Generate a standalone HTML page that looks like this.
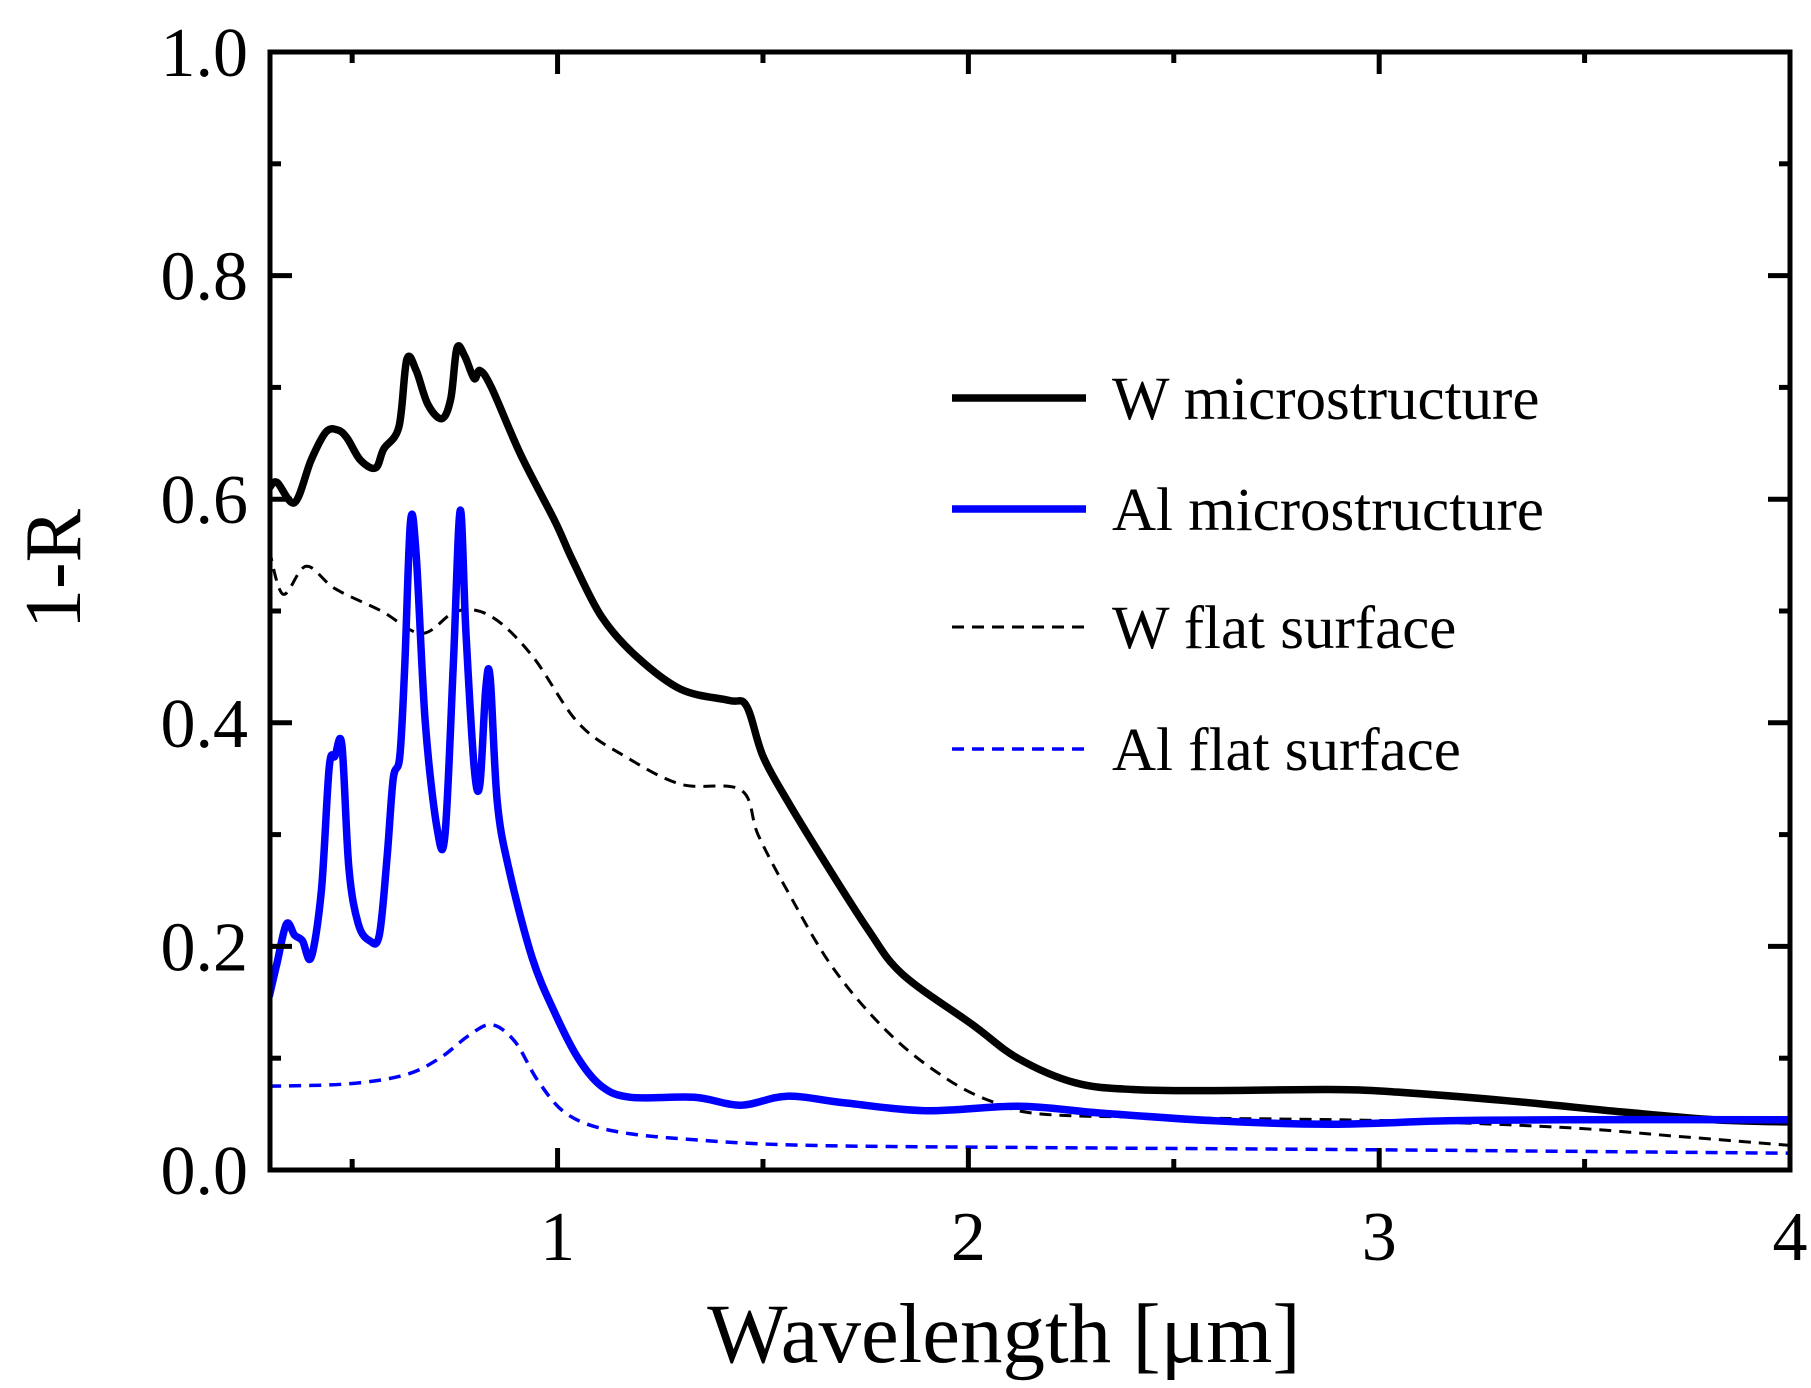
<!DOCTYPE html>
<html><head><meta charset="utf-8"><style>
html,body{margin:0;padding:0;background:#fff}
svg{display:block}
text{font-family:"Liberation Serif",serif;fill:#000}
</style></head><body>
<svg id="chart" width="1811" height="1388" viewBox="0 0 1811 1388" xmlns="http://www.w3.org/2000/svg">
<g id="plot"></g>
</svg>
<script>
const xTicks=[1,2,3,4];
const xMinor=[0.5,1.5,2.5,3.5];
const yTicks=[0,0.2,0.4,0.6,0.8,1.0];
const yTickLabels=["0.0","0.2","0.4","0.6","0.8","1.0"];
const yMinor=[0.1,0.3,0.5,0.7,0.9];
const wMicroX=[0.298,0.317,0.36,0.40,0.436,0.464,0.487,0.52,0.557,0.577,0.614,0.633,0.656,0.684,0.718,0.74,0.755,0.774,0.797,0.811,0.839,0.91,0.994,1.037,1.107,1.19,1.30,1.417,1.46,1.50,1.56,1.643,1.756,1.84,2.01,2.12,2.26,2.40,2.60,2.88,3.03,3.31,3.59,3.815,4.0];
const wMicroY=[0.61,0.615,0.597,0.635,0.66,0.662,0.655,0.635,0.628,0.645,0.665,0.725,0.715,0.685,0.672,0.69,0.735,0.728,0.708,0.715,0.7,0.64,0.58,0.545,0.495,0.46,0.43,0.42,0.415,0.37,0.33,0.28,0.215,0.175,0.13,0.1,0.078,0.072,0.071,0.072,0.07,0.062,0.052,0.045,0.043];
const alMicroX=[0.298,0.317,0.34,0.36,0.379,0.40,0.425,0.444,0.458,0.475,0.492,0.515,0.543,0.566,0.585,0.6,0.616,0.628,0.642,0.656,0.678,0.707,0.726,0.746,0.763,0.777,0.797,0.811,0.825,0.836,0.853,0.881,0.938,0.994,1.05,1.107,1.178,1.333,1.446,1.559,1.70,1.897,2.123,2.32,2.60,2.884,3.166,3.45,4.0];
const alMicroY=[0.155,0.185,0.22,0.21,0.205,0.19,0.25,0.36,0.37,0.38,0.27,0.22,0.205,0.21,0.28,0.35,0.37,0.45,0.58,0.55,0.40,0.305,0.3,0.45,0.59,0.48,0.36,0.345,0.43,0.44,0.33,0.27,0.19,0.14,0.1,0.075,0.065,0.065,0.058,0.066,0.06,0.053,0.057,0.051,0.044,0.041,0.044,0.045,0.045];
const wFlatX=[0.298,0.332,0.388,0.458,0.571,0.67,0.755,0.839,0.938,1.05,1.164,1.30,1.446,1.488,1.559,1.672,1.813,1.954,2.066,2.18,2.46,3.03,3.45,3.73,4.0];
const wFlatY=[0.555,0.515,0.54,0.52,0.5,0.48,0.5,0.495,0.46,0.4,0.37,0.345,0.34,0.3,0.25,0.18,0.12,0.08,0.06,0.05,0.047,0.044,0.038,0.03,0.022];
const alFlatX=[0.298,0.487,0.628,0.713,0.783,0.839,0.896,0.952,1.023,1.135,1.333,1.615,2.18,3.03,4.0];
const alFlatY=[0.075,0.077,0.085,0.1,0.12,0.13,0.115,0.08,0.05,0.035,0.027,0.022,0.02,0.018,0.015];

const NS="http://www.w3.org/2000/svg";
const L=270,R=1790,T=52,B=1170,XMIN=0.3,XMAX=4,YMIN=0,YMAX=1;
const sx=v=>L+(v-XMIN)/(XMAX-XMIN)*(R-L);
const sy=v=>B-(v-YMIN)/(YMAX-YMIN)*(B-T);
const g=document.getElementById('plot');
function mk(tag,attrs,parent){const e=document.createElementNS(NS,tag);for(const k in attrs)e.setAttribute(k,attrs[k]);(parent||g).appendChild(e);return e;}
function path(xs,ys){
  const p=xs.map((x,i)=>[sx(x),sy(ys[i])]);
  let d='M'+p[0][0].toFixed(1)+','+p[0][1].toFixed(1);
  for(let i=0;i<p.length-1;i++){
    const p0=p[Math.max(0,i-1)],p1=p[i],p2=p[i+1],p3=p[Math.min(p.length-1,i+2)];
    const c1=[p1[0]+(p2[0]-p0[0])/6,p1[1]+(p2[1]-p0[1])/6];
    const c2=[p2[0]-(p3[0]-p1[0])/6,p2[1]-(p3[1]-p1[1])/6];
    d+=' C'+c1[0].toFixed(1)+','+c1[1].toFixed(1)+' '+c2[0].toFixed(1)+','+c2[1].toFixed(1)+' '+p2[0].toFixed(1)+','+p2[1].toFixed(1);
  }
  return d;
}
const clip=mk('clipPath',{id:'cp'});mk('rect',{x:L,y:T,width:R-L,height:B-T},clip);
const series=[
 {n:'w-flat-line',x:wFlatX,y:wFlatY,c:'#000',w:3,d:'12 8'},
 {n:'al-flat-line',x:alFlatX,y:alFlatY,c:'#0000ff',w:3.5,d:'12 8'},
 {n:'w-microstructure-line',x:wMicroX,y:wMicroY,c:'#000',w:7.5,d:''},
 {n:'al-microstructure-line',x:alMicroX,y:alMicroY,c:'#0000ff',w:7.5,d:''}
];
series.forEach(s=>{
  const e=mk('path',{d:path(s.x,s.y),fill:'none',stroke:s.c,'stroke-width':s.w,'stroke-dasharray':s.d,'stroke-linejoin':'round','clip-path':'url(#cp)'});
  
  
});
const fr=mk('rect',{x:L,y:T,width:R-L,height:B-T,fill:'none',stroke:'#000','stroke-width':5});


xTicks.forEach(v=>{
  const x=sx(v);
  mk('line',{x1:x,y1:B,x2:x,y2:B-22,stroke:'#000','stroke-width':5});
  mk('line',{x1:x,y1:T,x2:x,y2:T+22,stroke:'#000','stroke-width':5});
  const t=mk('text',{x:x,y:1260,'font-size':70,'text-anchor':'middle'});t.textContent=v;
  
  
});
xMinor.forEach(v=>{const x=sx(v);
  mk('line',{x1:x,y1:B,x2:x,y2:B-11,stroke:'#000','stroke-width':5});
  mk('line',{x1:x,y1:T,x2:x,y2:T+11,stroke:'#000','stroke-width':5});});
yTicks.forEach((v,i)=>{
  const y=sy(v);
  mk('line',{x1:L,y1:y,x2:L+22,y2:y,stroke:'#000','stroke-width':5});
  mk('line',{x1:R,y1:y,x2:R-22,y2:y,stroke:'#000','stroke-width':5});
  const t=mk('text',{x:248,y:y+24,'font-size':70,'text-anchor':'end'});t.textContent=yTickLabels[i];
  
  
});
yMinor.forEach(v=>{const y=sy(v);
  mk('line',{x1:L,y1:y,x2:L+11,y2:y,stroke:'#000','stroke-width':5});
  mk('line',{x1:R,y1:y,x2:R-11,y2:y,stroke:'#000','stroke-width':5});});
const xt=mk('text',{x:1004,y:1362,'font-size':85,'text-anchor':'middle'});xt.textContent='Wavelength [μm]';


const yt=mk('text',{x:0,y:0,'font-size':80,'text-anchor':'middle',transform:'translate(80,569) rotate(-90)'});yt.textContent='1-R';


const leg=[
 {t:'W microstructure',c:'#000',w:7.5,d:'',y:398},
 {t:'Al microstructure',c:'#0000ff',w:7.5,d:'',y:509},
 {t:'W flat surface',c:'#000',w:3,d:'12 8',y:627},
 {t:'Al flat surface',c:'#0000ff',w:3.5,d:'12 8',y:749}
];
leg.forEach(l=>{
  const ln=mk('line',{x1:952,y1:l.y,x2:1086,y2:l.y,stroke:l.c,'stroke-width':l.w,'stroke-dasharray':l.d});
  
  
  const t=mk('text',{x:1112,y:l.y+21,'font-size':61});t.textContent=l.t;
  
  
});
</script>
</body></html>
